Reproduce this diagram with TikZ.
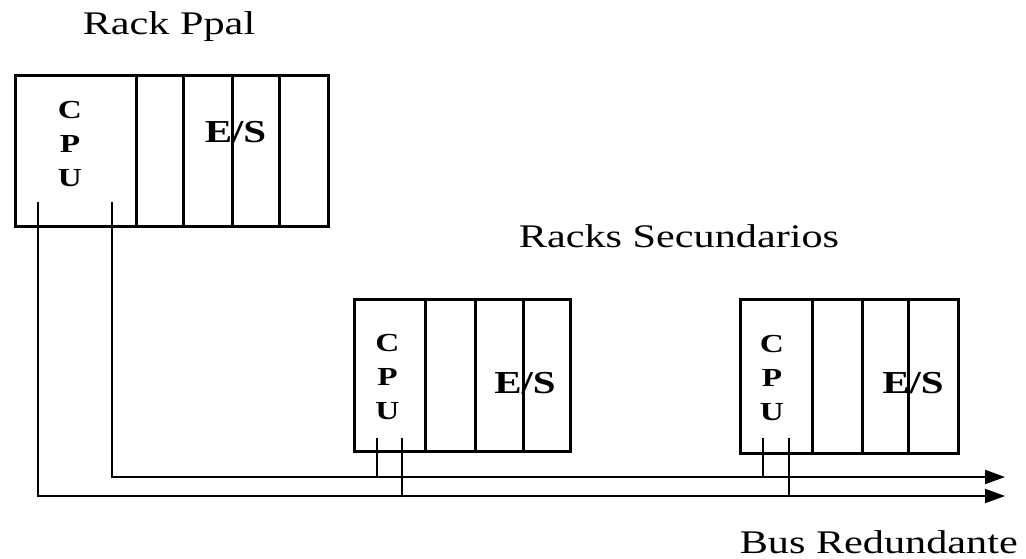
\documentclass[tikz,border=0pt]{standalone}
\usepackage{fontspec}
\setmainfont{Liberation Serif}[FakeStretch=1.28]
\usetikzlibrary{arrows.meta}

\begin{document}
\begin{tikzpicture}[x=1pt,y=-1pt,
  rackframe/.style={draw, line width=3pt, inner sep=0pt, anchor=north west},
  slot/.style={line width=3pt},
  wire/.style={line width=2pt},
  bus/.style={wire, -{Triangle[length=20pt,width=14pt]}},
  caption/.style={font=\fontsize{33}{36}\selectfont, anchor=base, inner sep=0pt},
  cpulabel/.style={font=\fontsize{26}{34}\selectfont\bfseries, align=center, inner sep=0pt},
  iolabel/.style={font=\fontsize{32}{34}\selectfont\bfseries, anchor=base, inner sep=0pt}]

\useasboundingbox (0,0) rectangle (1026,559);

% main rack
\node[rackframe, minimum width=313pt, minimum height=151pt] (main) at (14,74) {};
\foreach \x in {136,183,232,279} \draw[slot] (\x,74) -- (\x,225);
\node[cpulabel] (cpu0) at (70,144) {C\\P\\U};
\node[iolabel] (io0) at (235.5,143) {E/S};
\node[caption] (lblmain) at (169,35) {Rack Ppal};

% secondary rack 1
\node[rackframe, minimum width=216pt, minimum height=152pt] (sec1) at (353,298) {};
\foreach \x in {425,475,523} \draw[slot] (\x,298) -- (\x,450);
\node[cpulabel] (cpu1) at (387.5,377) {C\\P\\U};
\node[iolabel] (io1) at (525,393) {E/S};

% secondary rack 2
\node[rackframe, minimum width=218pt, minimum height=154pt] (sec2) at (739,298) {};
\foreach \x in {812,862,908} \draw[slot] (\x,298) -- (\x,452);
\node[cpulabel] (cpu2) at (772,378) {C\\P\\U};
\node[iolabel] (io2) at (913,393) {E/S};

\node[caption] (lblsec) at (679,247) {Racks Secundarios};
\node[caption, anchor=base east] (lblbus) at (1018,553) {Bus Redundante};

% redundant bus
\coordinate (busA) at (1005,477);
\coordinate (busB) at (1005,496);
\coordinate (p0a) at (112,202);
\coordinate (p0b) at (38,202);
\draw[bus] (p0a) |- (busA);
\draw[bus] (p0b) |- (busB);

% taps of the secondary CPUs
\coordinate (p1a) at (377,438);
\coordinate (p1b) at (402,438);
\coordinate (p2a) at (763,438);
\coordinate (p2b) at (789,438);
\draw[wire] (p1a) -- (p1a |- busA);
\draw[wire] (p1b) -- (p1b |- busB);
\draw[wire] (p2a) -- (p2a |- busA);
\draw[wire] (p2b) -- (p2b |- busB);
\end{tikzpicture}
\end{document}
